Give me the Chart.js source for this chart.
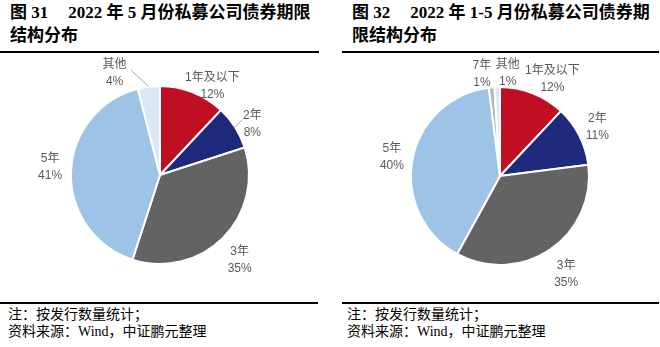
<!DOCTYPE html>
<html>
<head>
<meta charset="utf-8">
<script src="https://cdn.jsdelivr.net/npm/chart.js@4/dist/chart.umd.min.js"></script>
<style>
    body { margin: 0; width: 660px; height: 347px; background: #fff; position: relative; overflow: hidden; }
    .title { position: absolute; top: 1px; font: bold 17px "Liberation Serif", "Noto Sans CJK SC", serif; line-height: 23px; color: #000; white-space: nowrap; }
    .title .gap { display: inline-block; width: 20px; }
    .rule { position: absolute; height: 1.5px; background: #000; }
    .note { position: absolute; top: 306px; font: 14px "Liberation Serif", "Noto Sans CJK SC", serif; line-height: 17px; color: #000; white-space: nowrap; }
    .pie { position: absolute; }
</style>
</head>
<body>
<div class="title" style="left:10px">图 31<span class="gap"></span>2022 年 5 月份私募公司债券期限<br>结构分布</div>
<div class="title" style="left:352px">图 32<span class="gap"></span>2022 年 1-5 月份私募公司债券期<br>限结构分布</div>
<div class="rule" style="left:0;top:51px;width:319px"></div>
<div class="rule" style="left:342px;top:51px;width:317px"></div>

<canvas id="leftPie" class="pie" width="320" height="246" style="left:0;top:52px"></canvas>
<canvas id="rightPie" class="pie" width="320" height="246" style="left:340px;top:53px"></canvas>

<div class="rule" style="left:0;top:302px;width:318px"></div>
<div class="rule" style="left:342px;top:302px;width:317px"></div>
<div class="note" style="left:8px">注：按发行数量统计；<br>资料来源：Wind，中证鹏元整理</div>
<div class="note" style="left:347px">注：按发行数量统计；<br>资料来源：Wind，中证鹏元整理</div>

<script>
// May 2022
const leftLabels = ['1年及以下', '2年', '3年', '5年', '其他'];
const leftValues = [12, 8, 35, 41, 4];

// Jan-May 2022
const rightLabels = ['1年及以下', '2年', '3年', '5年', '7年', '其他'];
const rightValues = [12, 11, 35, 40, 1, 1];

const leftColors = ['#C00F22', '#1F2A7C', '#636363', '#9DC3E6', '#DAE8F5'];
const rightColors = ['#C00F22', '#1F2A7C', '#636363', '#9DC3E6', '#B4B4B4', '#DAE8F5'];

// nudges for the outside labels (Excel "best fit" placement), plus optional leader line end
const leftLabelNudge = [[13, 10], [2, 6], [4, 9], [-3, -5], [-32, 4]];
const leftLeaders = [null, [-10, -4], null, null, [16, -3]];
const rightLabelNudge = [[13, 2], [2, -1], [6, 9], [-3, 1], [-8, 4], [11, 4]];
const rightLeaders = [null, null, null, null, null, null];

const outsideLabels = {
    id: 'outsideLabels',
    afterDatasetsDraw(chart, args, opts) {
        const ctx = chart.ctx;
        const data = chart.data.datasets[0].data;
        const total = data.reduce((a, b) => a + b, 0);
        const arcs = chart.getDatasetMeta(0).data;

        ctx.save();
        ctx.font = '12px "Liberation Sans", "Noto Sans CJK SC", sans-serif';
        ctx.textAlign = 'center';
        ctx.textBaseline = 'middle';

        arcs.forEach((arc, i) => {
            const {x, y, startAngle, endAngle, outerRadius} = arc.getProps(['x', 'y', 'startAngle', 'endAngle', 'outerRadius'], true);
            const mid = (startAngle + endAngle) / 2;
            const d = outerRadius + 18;
            const lx = x + Math.cos(mid) * d + opts.nudge[i][0];
            const ly = y + Math.sin(mid) * d + opts.nudge[i][1];

            if (opts.leaders[i]) {
                ctx.strokeStyle = '#A6A6A6';
                ctx.lineWidth = 1;
                ctx.beginPath();
                ctx.moveTo(x + Math.cos(mid) * outerRadius, y + Math.sin(mid) * outerRadius);
                ctx.lineTo(lx + opts.leaders[i][0], ly + opts.leaders[i][1]);
                ctx.stroke();
            }

            ctx.fillStyle = '#595959';
            ctx.fillText(chart.data.labels[i], lx, ly - 8);
            ctx.fillText(Math.round(data[i] / total * 100) + '%', lx, ly + 9);
        });
        ctx.restore();
    }
};

function makePie(id, labels, values, colors, nudge, leaders) {
    return new Chart(document.getElementById(id), {
        type: 'pie',
        data: {
            labels: labels,
            datasets: [{
                data: values,
                backgroundColor: colors,
                borderColor: '#FFFFFF',
                borderWidth: 2
            }]
        },
        options: {
            responsive: false,
            animation: false,
            radius: 89,
            layout: { padding: 0 },
            plugins: {
                legend: { display: false },
                tooltip: { enabled: false },
                outsideLabels: { nudge: nudge, leaders: leaders }
            }
        },
        plugins: [outsideLabels]
    });
}

makePie('leftPie', leftLabels, leftValues, leftColors, leftLabelNudge, leftLeaders);
makePie('rightPie', rightLabels, rightValues, rightColors, rightLabelNudge, rightLeaders);
</script>
</body>
</html>
